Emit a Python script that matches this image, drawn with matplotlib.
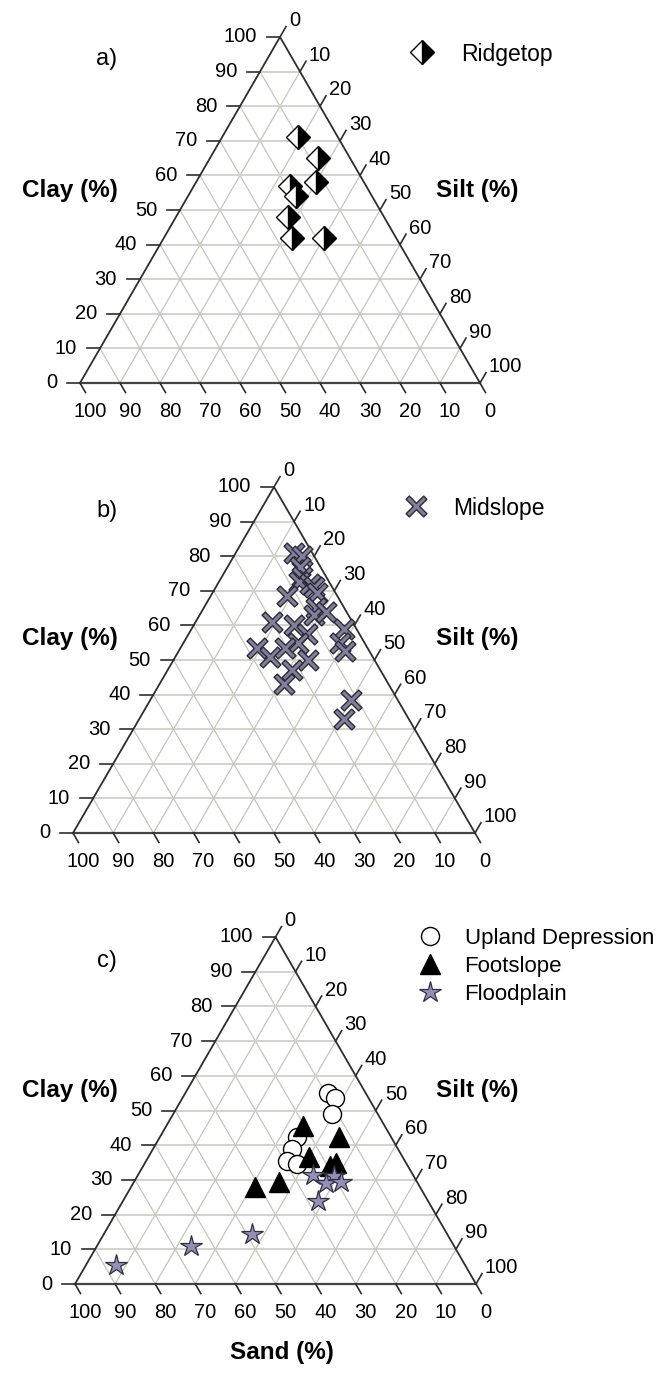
import numpy as np
import matplotlib.pyplot as plt
from matplotlib.path import Path

plt.rcParams['font.family'] = ['Liberation Sans', 'DejaVu Sans']

FIG_W, FIG_H = 661, 1375
H = np.sqrt(3) / 2

# ---- data, percent (clay, silt); sand = 100 - clay - silt ----
ridge_clay = [71, 65, 58, 57, 54, 48, 42, 42]
ridge_silt = [19, 27, 30, 24, 27, 28, 32, 40]

mid_clay = [81, 80, 77, 74, 72.5, 72, 71, 69.5, 68.5, 65, 63, 64, 61, 60, 57.5, 59,
            55, 55, 52.5, 53.5, 51, 53.5, 50, 47, 43, 38.5, 33]
mid_silt = [14.5, 17, 18, 20, 20, 23, 24.5, 26, 19, 28, 28.5, 31, 19, 25, 29.5, 38,
            28.5, 39, 41.5, 19, 23.5, 26, 33.5, 31, 31, 50, 51]

upland_clay = [55, 53.5, 49, 42.5, 39, 35.5, 34.5]
upland_silt = [35.5, 38, 39.5, 34, 34.5, 35, 38]

foot_clay = [45.5, 42.5, 36.5, 35, 34, 29.5, 28]
foot_silt = [34, 44.5, 40, 47.5, 46.5, 36, 31]

flood_clay = [31.5, 31, 29, 29.5, 24, 14.5, 11, 5.5]
flood_silt = [43.5, 49, 48, 51.5, 48.5, 37, 23.5, 7.5]

ticks = np.arange(0, 101, 10)
tick_labels = [str(t) for t in ticks]

# ---- layout (pixels from top-left of the figure) ----
corners = [((80, 383), (480, 383), 37),
           ((73, 833), (475, 833), 487),
           ((75, 1284), (476, 1284), 937)]

EDGE = '#2e2e2e'
GRID_H = '#d3d3cd'
GRID_S = '#c6c6b6'
TICK_FS = 14.5

# thin-armed X marker (rotated plus)
a = 0.09
plus = np.array([(a, a), (a, 0.5), (-a, 0.5), (-a, a), (-0.5, a), (-0.5, -a),
                 (-a, -a), (-a, -0.5), (a, -0.5), (a, -a), (0.5, -a), (0.5, a), (a, a)])
rot = np.array([[np.cos(np.pi / 4), -np.sin(np.pi / 4)], [np.sin(np.pi / 4), np.cos(np.pi / 4)]])
thin_x = Path(plus @ rot.T, closed=True)


def to_xy(clay, silt):
    clay = np.asarray(clay) / 100.0
    silt = np.asarray(silt) / 100.0
    return silt + 0.5 * clay, clay * H


def fx(x):
    return x / FIG_W


def fy(y):
    return 1 - y / FIG_H


def ternary(ax, wpx):
    px = 1.0 / wpx
    # grid
    for t in ticks[1:-1] / 100.0:
        ax.plot([0.5 * t, 1 - 0.5 * t], [t * H, t * H], color=GRID_H, lw=1.4, zorder=1)
        ax.plot([t, 0.5 + 0.5 * t], [0, (1 - t) * H], color=GRID_S, lw=0.9, zorder=1)
        ax.plot([1 - t, 0.5 * (1 - t)], [0, (1 - t) * H], color=GRID_S, lw=0.9, zorder=1)
    # edges
    ax.plot([0, 0.5, 1], [0, H, 0], color=EDGE, lw=1.3, zorder=2, clip_on=False)
    ax.plot([0, 1], [0, 0], color='#444444', lw=1.6, zorder=2, clip_on=False)
    c60, s60 = 0.5, H
    for t, lab in zip(ticks / 100.0, tick_labels):
        # clay, left edge
        x0, y0 = 0.5 * t, t * H
        ax.plot([x0, x0 - 13 * px], [y0, y0], color=EDGE, lw=1.2, clip_on=False)
        ax.text(x0 - 23 * px, y0, lab, ha='right', va='center', fontsize=TICK_FS)
        # silt, right edge
        x0, y0 = 0.5 + 0.5 * t, (1 - t) * H
        x1, y1 = x0 + 12 * px * c60, y0 + 12 * px * s60
        ax.plot([x0, x1], [y0, y1], color=EDGE, lw=1.2, clip_on=False)
        ax.text(x1 + 3 * px, y1 + 6 * px, lab, ha='left', va='center', fontsize=TICK_FS)
        # sand, base
        x0, y0 = 1 - t, 0
        x1, y1 = x0 + 11 * px * c60, y0 - 11 * px * s60
        ax.plot([x0, x1], [y0, y1], color=EDGE, lw=1.2, clip_on=False)
        ax.text(x0 + 10 * px, y0 - 19 * px, lab, ha='center', va='top', fontsize=TICK_FS)


fig = plt.figure(figsize=(FIG_W / 100, FIG_H / 100), dpi=100)
axes = []
for (bl, br, apex_y) in corners:
    ax = fig.add_axes([fx(bl[0]), fy(bl[1]), (br[0] - bl[0]) / FIG_W, (bl[1] - apex_y) / FIG_H])
    ax.set_xlim(0, 1)
    ax.set_ylim(0, H)
    ax.axis('off')
    ternary(ax, br[0] - bl[0])
    axes.append(ax)

ax_a, ax_b, ax_c = axes

# a) ridgetop
x, y = to_xy(ridge_clay, ridge_silt)
ax_a.plot(x, y, ls='none', marker='D', ms=12, fillstyle='right', mfc='black',
          mfcalt='white', mec='black', mew=1.0, zorder=5, clip_on=False, label='Ridgetop')

# b) midslope
x, y = to_xy(mid_clay, mid_silt)
ax_b.plot(x, y, ls='none', marker=thin_x, ms=15, mfc='#80809a', mec='#2a2a38', mew=1.0,
          zorder=5, clip_on=False, label='Midslope')

# c) other positions
x, y = to_xy(upland_clay, upland_silt)
ax_c.plot(x, y, ls='none', marker='o', ms=13, mfc='white', mec='black', mew=1.0,
          zorder=5, clip_on=False, label='Upland Depression')
x, y = to_xy(foot_clay, foot_silt)
ax_c.plot(x, y, ls='none', marker='^', ms=14, mfc='black', mec='black', mew=1.0,
          zorder=5, clip_on=False, label='Footslope')
x, y = to_xy(flood_clay, flood_silt)
ax_c.plot(x, y, ls='none', marker='*', ms=16, mfc='#9391b3', mec='#303045', mew=0.9,
          zorder=6, clip_on=False, label='Floodplain')

# legends
leg_kw = dict(frameon=False, borderpad=0, borderaxespad=0,
              handlelength=1.0, numpoints=1, bbox_transform=fig.transFigure)
ax_a.legend(loc='center left', bbox_to_anchor=(fx(411), fy(54)), handletextpad=1.2,
            fontsize=16.5, **leg_kw)
ax_b.legend(loc='center left', bbox_to_anchor=(fx(405), fy(508)), handletextpad=1.1,
            fontsize=16.5, **leg_kw)
ax_c.legend(loc='upper left', bbox_to_anchor=(fx(419), fy(928)), handletextpad=1.05,
            labelspacing=0.32, fontsize=16, **leg_kw)

# panel letters and axis titles
for letter, ly in zip(['a)', 'b)', 'c)'], [59, 511, 961]):
    fig.text(fx(107), fy(ly), letter, ha='center', va='center', fontsize=17)

for cy in [191, 638, 1090]:
    fig.text(fx(70), fy(cy), 'Clay (%)', ha='center', va='center', fontsize=17.5, fontweight='bold')
    fig.text(fx(477), fy(cy), 'Silt (%)', ha='center', va='center', fontsize=17.5, fontweight='bold')
fig.text(fx(282), fy(1352), 'Sand (%)', ha='center', va='center', fontsize=17.5, fontweight='bold')

fig.savefig('out.png', dpi=100)
